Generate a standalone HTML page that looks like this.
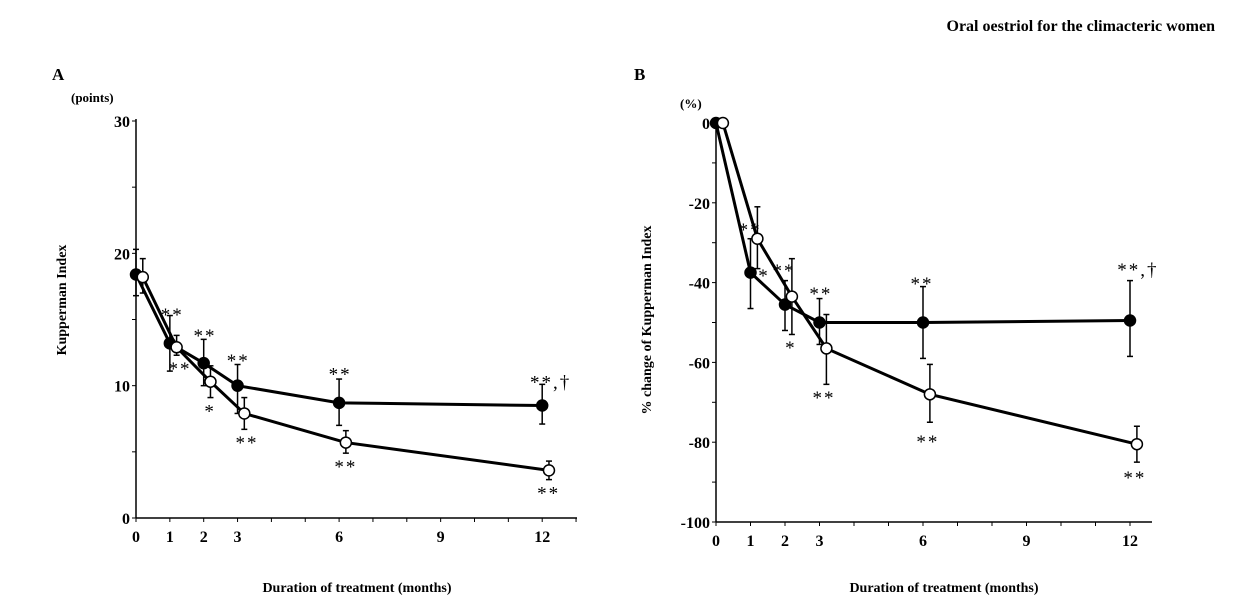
<!DOCTYPE html>
<html><head><meta charset="utf-8">
<style>
html,body{margin:0;padding:0;background:#fff;}
svg{display:block;font-family:"Liberation Serif",serif;}
.b{font-weight:bold;}
</style></head>
<body>
<svg id="chart" width="1255" height="615" viewBox="0 0 1255 615" xmlns="http://www.w3.org/2000/svg">
<text x="1215" y="31" text-anchor="end" class="b" font-size="16">Oral oestriol for the climacteric women</text>
<text x="52" y="80" class="b" font-size="17">A</text>
<text x="634" y="80" class="b" font-size="17">B</text>
<text x="71" y="102" class="b" font-size="13">(points)</text>
<text x="680" y="108" class="b" font-size="13">(%)</text>
<text transform="translate(66,300) rotate(-90)" text-anchor="middle" class="b" font-size="14">Kupperman Index</text>
<text transform="translate(651,320) rotate(-90)" text-anchor="middle" class="b" font-size="14">% change of Kupperman Index</text>
<text x="357" y="592" text-anchor="middle" class="b" font-size="14">Duration of treatment (months)</text>
<text x="944" y="592" text-anchor="middle" class="b" font-size="14">Duration of treatment (months)</text>
<g id="pa"></g><g id="pb"></g>
</svg>
<script>
const months=[0,1,2,3,6,12];
const xTicks=[0,1,2,3,6,9,12];
const aYTicks=[0,10,20,30];
const bYTicks=[0,-20,-40,-60,-80,-100];
const aFilled=[18.4,13.2,11.7,10.0,8.7,8.5];
const aFilledHi=[20.3,15.3,13.5,11.6,10.5,10.1];
const aFilledLo=[16.8,11.1,10.0,7.9,7.0,7.1];
const aOpen=[18.2,12.9,10.3,7.9,5.7,3.6];
const aOpenHi=[19.6,13.8,11.5,9.1,6.6,4.3];
const aOpenLo=[17.0,12.3,9.1,6.7,4.9,2.9];
const bFilled=[0,-37.5,-45.5,-50,-50,-49.5];
const bFilledHi=[0,-29,-39.5,-44,-41,-39.5];
const bFilledLo=[0,-46.5,-52,-55.5,-59,-58.5];
const bOpen=[0,-29,-43.5,-56.5,-68,-80.5];
const bOpenHi=[0,-21,-34,-48,-60.5,-76];
const bOpenLo=[0,-36.5,-53,-65.5,-75,-85];
const aNotes=[[1.07,15.5,"**"],[1.3,11.4,"**"],[2.04,13.9,"**"],[2.19,8.2,"*"],[3.02,12.0,"**"],[3.28,5.8,"**"],[6.03,11.0,"**"],[6.2,4.0,"**"],[12.25,10.4,"**,†"],[12.19,2.0,"**"]];
const bNotes=[[0.99,-26.3,"**"],[1.39,-37.8,"*"],[1.97,-36.6,"**"],[2.17,-55.9,"*"],[3.04,-42.4,"**"],[3.13,-68.4,"**"],[5.97,-39.8,"**"],[6.14,-79.4,"**"],[12.23,-36.3,"**,†"],[12.14,-88.5,"**"]];
const OFF=0.2;
const NS="http://www.w3.org/2000/svg";
function mk(p,t,a){const e=document.createElementNS(NS,t);for(const k in a)e.setAttribute(k,a[k]);p.appendChild(e);return e;}
function panel(g,id,x0,xs,xEnd,yTop,yBot,yMin,yMax,yTicks,F,FH,FL,O,OH,OL,notes){
 const X=m=>x0+m*xs; const Y=v=>yBot-(v-yMin)/(yMax-yMin)*(yBot-yTop);
 let e=mk(g,'line',{x1:x0,y1:yTop-2,x2:x0,y2:yBot,stroke:'#000','stroke-width':1.5});
 
 e=mk(g,'line',{x1:x0,y1:yBot,x2:xEnd,y2:yBot,stroke:'#000','stroke-width':1.5});
 
 for(let m=0;X(m)<=xEnd;m++){mk(g,'line',{x1:X(m),y1:yBot,x2:X(m),y2:yBot+4,stroke:'#000'});}
 xTicks.forEach(m=>{e=mk(g,'text',{x:X(m),y:yBot+24,'text-anchor':'middle','font-size':16,'class':'b'});e.textContent=m;
  });
 const step=(yMax-yMin)/(yTicks.length-1)/2;
 for(let v=yMin;v<=yMax+1e-6;v+=step)mk(g,'line',{x1:x0-4,y1:Y(v),x2:x0,y2:Y(v),stroke:'#000'});
 yTicks.forEach(v=>{e=mk(g,'text',{x:x0-6,y:Y(v)+6,'text-anchor':'end','font-size':16,'class':'b'});e.textContent=v;
  });
 function series(vals,hi,lo,dx,fill,name){
  months.forEach((m,i)=>{if(hi[i]===lo[i])return;const x=X(m+dx);
   mk(g,'line',{x1:x,y1:Y(hi[i]),x2:x,y2:Y(lo[i]),stroke:'#000','stroke-width':1.5});
   mk(g,'line',{x1:x-3,y1:Y(hi[i]),x2:x+3,y2:Y(hi[i]),stroke:'#000','stroke-width':1.5});
   mk(g,'line',{x1:x-3,y1:Y(lo[i]),x2:x+3,y2:Y(lo[i]),stroke:'#000','stroke-width':1.5});});
  const pl=mk(g,'polyline',{points:months.map((m,i)=>X(m+dx)+','+Y(vals[i])).join(' '),fill:'none',stroke:'#000','stroke-width':3});
  
  months.forEach((m,i)=>{const c=mk(g,'circle',{cx:X(m+dx),cy:Y(vals[i]),r:5.5,fill:fill,stroke:'#000','stroke-width':1.5});
   });
 }
 series(F,FH,FL,0,'#000','filled');
 series(O,OH,OL,OFF,'#fff','open');
 notes.forEach(n=>{e=mk(g,'text',{x:X(n[0]),y:Y(n[1])+8,'text-anchor':'middle','font-size':19,'letter-spacing':2});e.textContent=n[2];
  });
}
panel(document.getElementById('pa'),'panel-a',136,33.85,577,121,518,0,30,aYTicks,aFilled,aFilledHi,aFilledLo,aOpen,aOpenHi,aOpenLo,aNotes);
panel(document.getElementById('pb'),'panel-b',716,34.5,1152,123,522,-100,0,bYTicks,bFilled,bFilledHi,bFilledLo,bOpen,bOpenHi,bOpenLo,bNotes);
</script>
</body></html>
